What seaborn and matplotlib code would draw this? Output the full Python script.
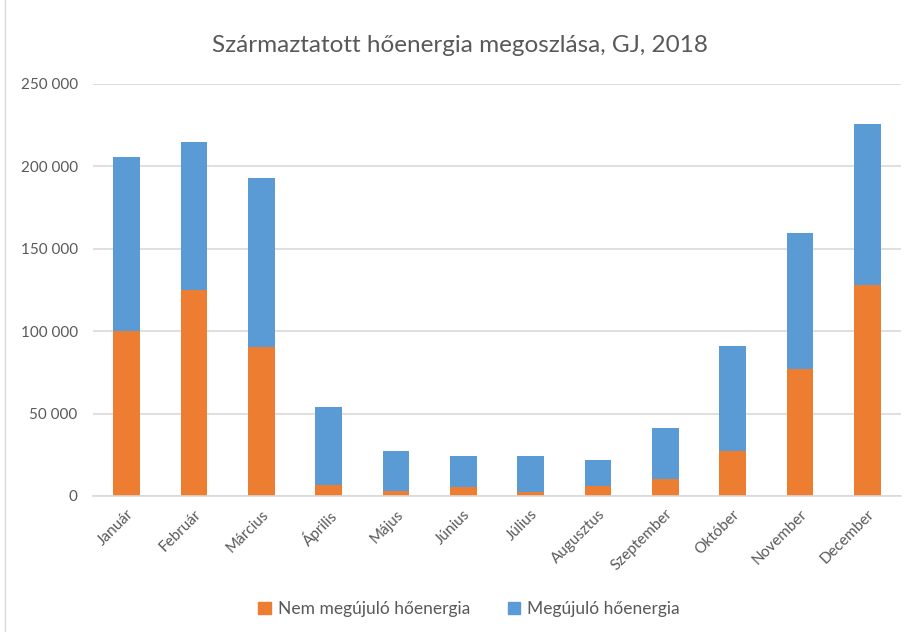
import numpy as np
import pandas as pd
import matplotlib
matplotlib.use('Agg')
import matplotlib.pyplot as plt
from matplotlib.patches import Patch, Rectangle
from matplotlib.ticker import FuncFormatter, MultipleLocator
import seaborn as sns

# data (GJ)
months = ['Január', 'Február', 'Március', 'Április', 'Május', 'Június',
          'Július', 'Augusztus', 'Szeptember', 'Október', 'November', 'December']
nonRenewable = [100000, 125000, 90500, 6500, 3000, 5300, 2600, 6300, 10200, 27300, 77300, 128200]
renewable = [106000, 90000, 102300, 47500, 24300, 18900, 21600, 15600, 31000, 63700, 82400, 97400]

orange = '#ED7D31'
blue = '#5B9BD5'
textGrey = '#595959'

sns.set_style('white')
plt.rcParams['font.family'] = ['Lato', 'DejaVu Sans']

df = pd.DataFrame({'Month': months, 'Nem': nonRenewable, 'Meg': renewable})
df['Total'] = df['Nem'] + df['Meg']

fig = plt.figure(figsize=(9.09, 6.32), dpi=100)
ax = fig.add_axes([0.1023, 0.2152, 0.8889, 0.6519])

# stacked bars: full height in blue, non-renewable part drawn over it in orange
sns.barplot(data=df, x='Month', y='Total', color=blue, width=0.4, saturation=1,
            linewidth=0, ax=ax)
sns.barplot(data=df, x='Month', y='Nem', color=orange, width=0.4, saturation=1,
            linewidth=0, ax=ax)

ax.set_ylim(0, 250000)
ax.yaxis.set_major_locator(MultipleLocator(50000))
ax.yaxis.set_major_formatter(FuncFormatter(lambda v, p: f'{int(v):,}'.replace(',', ' ')))
ax.grid(axis='y', color='#D9D9D9', linewidth=1.2)
ax.set_axisbelow(True)
for s in ['top', 'right', 'left']:
    ax.spines[s].set_visible(False)
ax.spines['bottom'].set_color('#D9D9D9')
ax.spines['bottom'].set_linewidth(1.2)
ax.set_xlabel('')
ax.set_ylabel('')
ax.tick_params(axis='both', length=0, colors=textGrey, labelsize=11)
ax.tick_params(axis='y', pad=11)
ax.tick_params(axis='x', pad=8)
plt.setp(ax.get_xticklabels(), rotation=45, ha='right', rotation_mode='anchor')

fig.suptitle('Származtatott hőenergia megoszlása, GJ, 2018', x=0.506, y=0.945,
             fontsize=17.5, color=textGrey)

handles = [Patch(color=orange, label='Nem megújuló hőenergia'),
           Patch(color=blue, label='Megújuló hőenergia')]
fig.legend(handles=handles, loc='center', bbox_to_anchor=(0.516, 0.036), ncol=2,
           frameon=False, fontsize=12.5, labelcolor=textGrey, handlelength=0.7,
           handleheight=0.7, columnspacing=2.2, handletextpad=0.4)

# light chart-area border
fig.patches.append(Rectangle((0.006, -0.01), 1.2, 1.2, transform=fig.transFigure,
                             fill=False, edgecolor='#D9D9D9', linewidth=1))

fig.savefig('out.png', dpi=100)
plt.close()
